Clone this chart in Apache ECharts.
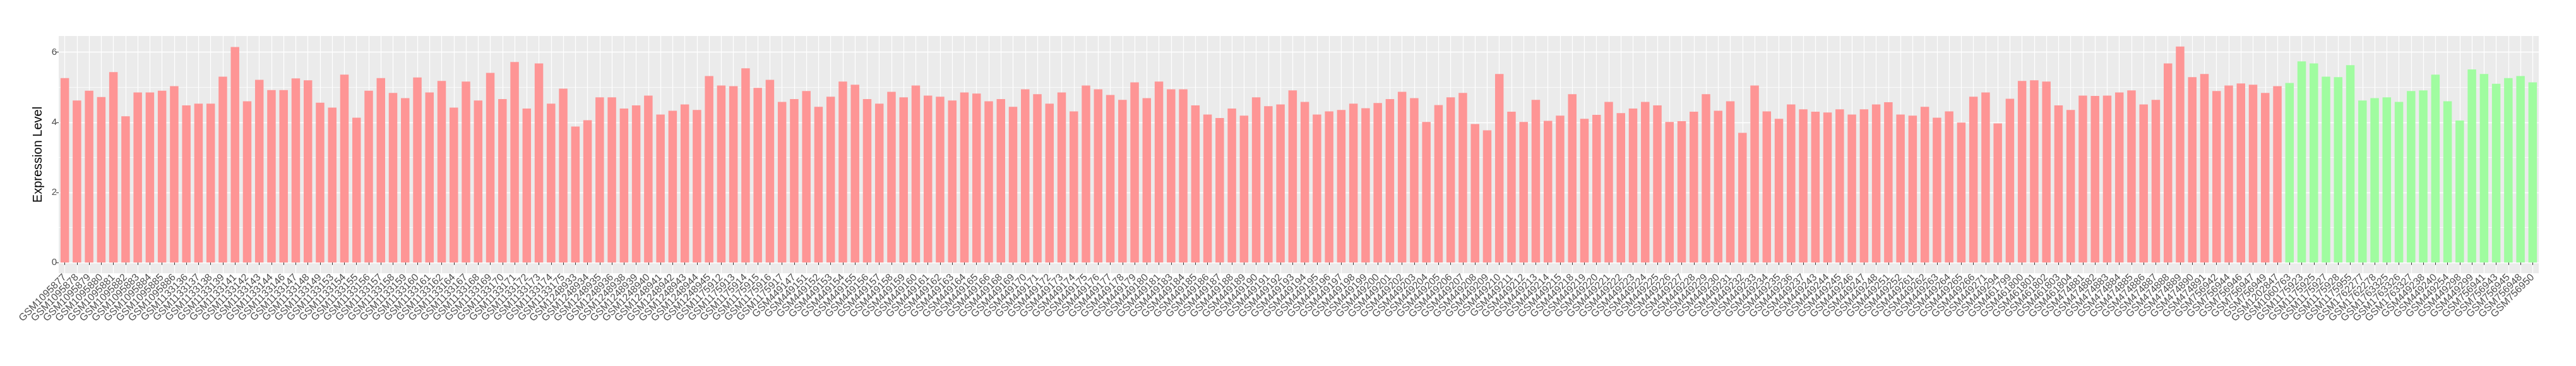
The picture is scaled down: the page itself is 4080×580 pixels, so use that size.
<!DOCTYPE html>
<html>
<head>
<meta charset="utf-8">
<script src="https://cdn.jsdelivr.net/npm/echarts@6/dist/echarts.min.js"></script>
<style>
html,body{margin:0;padding:0;background:#fff;}
#chart{width:4080px;height:580px;}
</style>
</head>
<body>
<div id="chart"></div>
<script>
// ---- data ----
const redLabels = [
 'GSM1095877','GSM1095878','GSM1095879','GSM1095880','GSM1095881','GSM1095882','GSM1095883','GSM1095884','GSM1095885','GSM1095886',
 'GSM1133136','GSM1133137','GSM1133138','GSM1133139','GSM1133141','GSM1133142','GSM1133143','GSM1133144','GSM1133146','GSM1133147',
 'GSM1133148','GSM1133149','GSM1133153','GSM1133154','GSM1133155','GSM1133156','GSM1133157','GSM1133158','GSM1133159','GSM1133160',
 'GSM1133161','GSM1133162','GSM1133164','GSM1133167','GSM1133168','GSM1133169','GSM1133170','GSM1133171','GSM1133172','GSM1133173',
 'GSM1133174','GSM1133175',
 'GSM1248933','GSM1248934','GSM1248935','GSM1248936','GSM1248938','GSM1248939','GSM1248940','GSM1248941','GSM1248942','GSM1248943',
 'GSM1248944','GSM1248945',
 'GSM1175912','GSM1175913','GSM1175914','GSM1175915','GSM1175916','GSM1175917',
 'GSM449147','GSM449151','GSM449152','GSM449153','GSM449154','GSM449155','GSM449156','GSM449157','GSM449158','GSM449159',
 'GSM449160','GSM449161','GSM449162','GSM449163','GSM449164','GSM449165','GSM449166','GSM449168','GSM449169','GSM449170',
 'GSM449171','GSM449172','GSM449173','GSM449174','GSM449175','GSM449176','GSM449177','GSM449178','GSM449179','GSM449180',
 'GSM449181','GSM449183','GSM449184','GSM449185','GSM449186','GSM449187','GSM449188','GSM449189','GSM449190','GSM449191',
 'GSM449192','GSM449193','GSM449194','GSM449195','GSM449196','GSM449197','GSM449198','GSM449199','GSM449200','GSM449201',
 'GSM449202','GSM449203','GSM449204','GSM449205','GSM449206','GSM449207','GSM449208','GSM449209','GSM449210','GSM449211',
 'GSM449212','GSM449213','GSM449214','GSM449215','GSM449218','GSM449219','GSM449220','GSM449221','GSM449222','GSM449223',
 'GSM449224','GSM449225','GSM449226','GSM449227','GSM449228','GSM449229','GSM449230','GSM449231','GSM449232','GSM449233',
 'GSM449234','GSM449235','GSM449236','GSM449237','GSM449243','GSM449244','GSM449245','GSM449246','GSM449247','GSM449248',
 'GSM449251','GSM449252','GSM449261','GSM449262','GSM449263','GSM449264','GSM449265','GSM449266','GSM449271','GSM449294',
 'GSM461799','GSM461800','GSM461801','GSM461802','GSM461803','GSM461804',
 'GSM474881','GSM474882','GSM474883','GSM474884','GSM474885','GSM474886','GSM474887','GSM474888','GSM474889','GSM474890','GSM474891',
 'GSM756942','GSM756944','GSM756946','GSM756947','GSM756949',
 'GSM1202847'
];
const redValues = [
 5.26,4.62,4.90,4.72,5.43,4.17,4.85,4.85,4.90,5.03,
 4.48,4.53,4.53,5.30,6.15,4.60,5.21,4.92,4.92,5.25,
 5.20,4.56,4.42,5.36,4.13,4.90,5.26,4.84,4.69,5.28,
 4.85,5.18,4.42,5.16,4.62,5.41,4.66,5.72,4.39,5.68,
 4.53,4.96,3.88,4.06,4.71,4.71,4.39,4.48,4.76,4.22,
 4.33,4.51,4.35,5.32,5.05,5.03,5.54,4.98,5.21,4.58,
 4.66,4.89,4.44,4.73,5.16,5.07,4.66,4.53,4.87,4.71,
 5.05,4.76,4.73,4.62,4.85,4.82,4.60,4.66,4.44,4.94,
 4.80,4.53,4.85,4.31,5.05,4.94,4.78,4.64,5.14,4.69,
 5.16,4.94,4.94,4.48,4.22,4.12,4.39,4.19,4.71,4.46,
 4.51,4.91,4.58,4.22,4.31,4.35,4.53,4.40,4.55,4.66,
 4.87,4.69,4.01,4.49,4.71,4.84,3.95,3.77,5.38,4.30,
 4.01,4.64,4.04,4.19,4.80,4.10,4.21,4.58,4.26,4.39,
 4.58,4.48,4.01,4.03,4.30,4.80,4.33,4.60,3.70,5.05,
 4.31,4.10,4.51,4.37,4.30,4.28,4.37,4.22,4.37,4.51,
 4.57,4.22,4.19,4.44,4.13,4.31,3.99,4.73,4.85,3.97,
 4.67,5.18,5.20,5.16,4.48,4.35,4.76,4.75,4.76,4.85,
 4.91,4.51,4.64,5.68,6.16,5.29,5.38,4.89,5.05,5.11,
 5.07,4.84,5.03
];
const greenLabels = [
 'GSM1060763','GSM1175923','GSM1175925','GSM1175927','GSM1175928','GSM1175955',
 'GSM1762277','GSM1762278','GSM1763325','GSM1763326','GSM1763327',
 'GSM449238','GSM449240','GSM449254','GSM449298','GSM449299',
 'GSM756941','GSM756943','GSM756945','GSM756948','GSM756950'
];
const greenValues = [
 5.12,5.74,5.68,5.30,5.29,5.63,4.62,4.69,4.71,4.58,4.89,
 4.91,5.36,4.60,4.05,5.51,5.38,5.10,5.26,5.32,5.14
];
const yTickValues = [0, 2, 4, 6];
const yMinorValues = [1, 3, 5];
const yTitle = 'Expression Level';

// ---- build ----
const categories = redLabels.concat(greenLabels);
const redSeries = redValues.concat(greenLabels.map(() => '-'));
const greenSeries = redLabels.map(() => '-').concat(greenValues);

const chart = echarts.init(document.getElementById('chart'), null, {renderer: 'canvas'});
const FONT = 'Liberation Sans, Arial, sans-serif';
chart.setOption({
  animation: false,
  backgroundColor: '#ffffff',
  grid: {left: 93, right: 59, top: 57, bottom: 147, show: true,
         backgroundColor: '#EBEBEB', borderWidth: 0, containLabel: false},
  xAxis: {
    type: 'category', data: categories, boundaryGap: true,
    axisLine: {show: false},
    axisTick: {show: true, alignWithLabel: true, length: 4, lineStyle: {color: '#333333', width: 1}},
    axisLabel: {interval: 0, rotate: 45, fontSize: 16, color: '#4D4D4D', margin: 4, fontFamily: FONT},
    splitLine: {show: true, alignWithLabel: true, lineStyle: {color: '#FFFFFF', width: 1.2}}
  },
  yAxis: [{
    type: 'value', min: -0.308, max: 6.463,
    name: yTitle, nameLocation: 'middle', nameGap: 18,
    nameTextStyle: {fontSize: 20, color: '#000000', fontFamily: FONT},
    axisLine: {show: false},
    axisTick: {show: true, customValues: yTickValues, length: 4, lineStyle: {color: '#333333', width: 1}},
    axisLabel: {customValues: yTickValues, fontSize: 15, color: '#4D4D4D', margin: 3, fontFamily: FONT},
    splitLine: {show: true, lineStyle: {color: '#FFFFFF', width: 1.4}}
  }, {
    type: 'value', min: -0.308, max: 6.463, position: 'left',
    axisLine: {show: false},
    axisTick: {show: false, customValues: yMinorValues},
    axisLabel: {show: false, customValues: yMinorValues},
    splitLine: {show: true, lineStyle: {color: '#FFFFFF', width: 0.7}}
  }],
  series: [{
    type: 'bar', data: redSeries, barWidth: '70%', barGap: '-100%',
    itemStyle: {color: '#FE9595'}, z: 3
  }, {
    type: 'bar', data: greenSeries, barWidth: '70%', barGap: '-100%',
    itemStyle: {color: '#A0FCA0'}, z: 3
  }]
});
</script>
</body>
</html>
